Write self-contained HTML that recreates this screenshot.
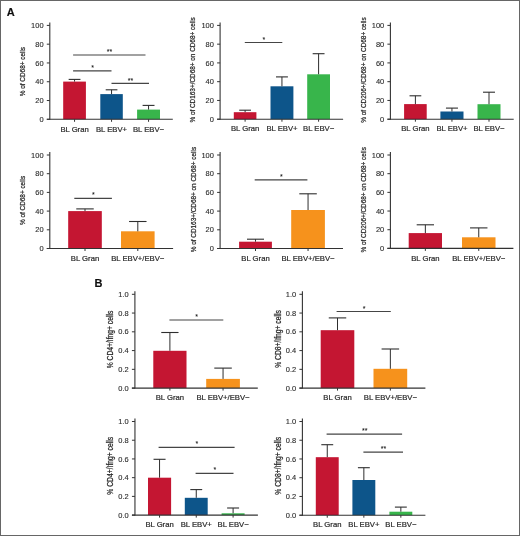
<!DOCTYPE html>
<html><head><meta charset="utf-8"><style>
html,body{margin:0;padding:0;background:#fff;}
#w{position:relative;width:520px;height:536px;overflow:hidden;background:#fff;}
#w svg{position:absolute;left:0;top:0;will-change:transform;}
text{font-family:"Liberation Sans", sans-serif;}
</style></head><body><div id="w">
<svg width="520" height="536" viewBox="0 0 520 536">
<defs><filter id="bl" x="0" y="0" width="1" height="1"><feGaussianBlur stdDeviation="0.3"/></filter></defs>
<g filter="url(#bl)">
<rect x="0" y="0" width="520" height="536" fill="#fff"/>
<rect x="0.5" y="0.5" width="519" height="535" fill="none" stroke="#666" stroke-width="1"/>
<rect x="63.20" y="81.60" width="22.70" height="37.70" fill="#C41230"/>
<rect x="100.30" y="94.10" width="22.50" height="25.20" fill="#10558A"/>
<rect x="137.10" y="109.60" width="22.90" height="9.70" fill="#37B54C"/>
<line x1="74.55" y1="79.40" x2="74.55" y2="81.60" stroke="#2e2e2e" stroke-width="1"/>
<line x1="68.65" y1="79.40" x2="80.45" y2="79.40" stroke="#2e2e2e" stroke-width="1.1"/>
<line x1="111.55" y1="89.80" x2="111.55" y2="94.10" stroke="#2e2e2e" stroke-width="1"/>
<line x1="105.70" y1="89.80" x2="117.40" y2="89.80" stroke="#2e2e2e" stroke-width="1.1"/>
<line x1="148.55" y1="105.40" x2="148.55" y2="109.60" stroke="#2e2e2e" stroke-width="1"/>
<line x1="142.60" y1="105.40" x2="154.50" y2="105.40" stroke="#2e2e2e" stroke-width="1.1"/>
<line x1="49.80" y1="22.40" x2="49.80" y2="119.80" stroke="#333" stroke-width="1.1"/>
<line x1="46.80" y1="119.30" x2="172.80" y2="119.30" stroke="#333" stroke-width="1.1"/>
<line x1="46.80" y1="119.30" x2="49.80" y2="119.30" stroke="#333" stroke-width="1"/>
<text transform="translate(43.60 121.90) scale(1.07 1)" font-size="7.0" text-anchor="end" fill="#2a2a2a" stroke="#2a2a2a" stroke-width="0.1" >0</text>
<line x1="46.80" y1="100.52" x2="49.80" y2="100.52" stroke="#333" stroke-width="1"/>
<text transform="translate(43.60 103.12) scale(1.07 1)" font-size="7.0" text-anchor="end" fill="#2a2a2a" stroke="#2a2a2a" stroke-width="0.1" >20</text>
<line x1="46.80" y1="81.74" x2="49.80" y2="81.74" stroke="#333" stroke-width="1"/>
<text transform="translate(43.60 84.34) scale(1.07 1)" font-size="7.0" text-anchor="end" fill="#2a2a2a" stroke="#2a2a2a" stroke-width="0.1" >40</text>
<line x1="46.80" y1="62.96" x2="49.80" y2="62.96" stroke="#333" stroke-width="1"/>
<text transform="translate(43.60 65.56) scale(1.07 1)" font-size="7.0" text-anchor="end" fill="#2a2a2a" stroke="#2a2a2a" stroke-width="0.1" >60</text>
<line x1="46.80" y1="44.18" x2="49.80" y2="44.18" stroke="#333" stroke-width="1"/>
<text transform="translate(43.60 46.78) scale(1.07 1)" font-size="7.0" text-anchor="end" fill="#2a2a2a" stroke="#2a2a2a" stroke-width="0.1" >80</text>
<line x1="46.80" y1="25.40" x2="49.80" y2="25.40" stroke="#333" stroke-width="1"/>
<text transform="translate(43.60 28.00) scale(1.07 1)" font-size="7.0" text-anchor="end" fill="#2a2a2a" stroke="#2a2a2a" stroke-width="0.1" >100</text>
<line x1="74.55" y1="119.30" x2="74.55" y2="121.80" stroke="#333" stroke-width="1"/>
<text transform="translate(74.55 131.50) scale(1.07 1)" font-size="7.2" text-anchor="middle" fill="#2a2a2a" stroke="#2a2a2a" stroke-width="0.2" >BL Gran</text>
<line x1="111.55" y1="119.30" x2="111.55" y2="121.80" stroke="#333" stroke-width="1"/>
<text transform="translate(111.55 131.50) scale(1.07 1)" font-size="7.2" text-anchor="middle" fill="#2a2a2a" stroke="#2a2a2a" stroke-width="0.2" >BL EBV+</text>
<line x1="148.55" y1="119.30" x2="148.55" y2="121.80" stroke="#333" stroke-width="1"/>
<text transform="translate(148.55 131.50) scale(1.07 1)" font-size="7.2" text-anchor="middle" fill="#2a2a2a" stroke="#2a2a2a" stroke-width="0.2" >BL EBV−</text>
<text transform="translate(25.00 71.60) rotate(-90) scale(1 1.25)" font-size="6.4" text-anchor="middle" fill="#2a2a2a" stroke="#2a2a2a" stroke-width="0.2" >% of CD68+ cells</text>
<line x1="73.10" y1="55.00" x2="145.50" y2="55.00" stroke="#444" stroke-width="1.15"/>
<text transform="translate(109.60 54.10) scale(1.07 1)" font-size="6.6" text-anchor="middle" fill="#111" stroke="#111" stroke-width="0.05" >**</text>
<line x1="73.10" y1="70.80" x2="111.50" y2="70.80" stroke="#444" stroke-width="1.15"/>
<text transform="translate(92.60 69.90) scale(1.07 1)" font-size="6.6" text-anchor="middle" fill="#111" stroke="#111" stroke-width="0.05" >*</text>
<line x1="111.50" y1="83.40" x2="149.00" y2="83.40" stroke="#444" stroke-width="1.15"/>
<text transform="translate(130.55 82.50) scale(1.07 1)" font-size="6.6" text-anchor="middle" fill="#111" stroke="#111" stroke-width="0.05" >**</text>
<rect x="233.80" y="112.20" width="22.60" height="7.00" fill="#C41230"/>
<rect x="270.50" y="86.30" width="22.90" height="32.90" fill="#10558A"/>
<rect x="307.20" y="74.30" width="22.80" height="44.90" fill="#37B54C"/>
<line x1="245.10" y1="110.20" x2="245.10" y2="112.20" stroke="#2e2e2e" stroke-width="1"/>
<line x1="239.22" y1="110.20" x2="250.98" y2="110.20" stroke="#2e2e2e" stroke-width="1.1"/>
<line x1="281.95" y1="76.90" x2="281.95" y2="86.30" stroke="#2e2e2e" stroke-width="1"/>
<line x1="276.00" y1="76.90" x2="287.90" y2="76.90" stroke="#2e2e2e" stroke-width="1.1"/>
<line x1="318.60" y1="53.70" x2="318.60" y2="74.30" stroke="#2e2e2e" stroke-width="1"/>
<line x1="312.67" y1="53.70" x2="324.53" y2="53.70" stroke="#2e2e2e" stroke-width="1.1"/>
<line x1="220.10" y1="22.40" x2="220.10" y2="119.70" stroke="#333" stroke-width="1.1"/>
<line x1="217.10" y1="119.20" x2="343.10" y2="119.20" stroke="#333" stroke-width="1.1"/>
<line x1="217.10" y1="119.20" x2="220.10" y2="119.20" stroke="#333" stroke-width="1"/>
<text transform="translate(213.90 121.80) scale(1.07 1)" font-size="7.0" text-anchor="end" fill="#2a2a2a" stroke="#2a2a2a" stroke-width="0.1" >0</text>
<line x1="217.10" y1="100.44" x2="220.10" y2="100.44" stroke="#333" stroke-width="1"/>
<text transform="translate(213.90 103.04) scale(1.07 1)" font-size="7.0" text-anchor="end" fill="#2a2a2a" stroke="#2a2a2a" stroke-width="0.1" >20</text>
<line x1="217.10" y1="81.68" x2="220.10" y2="81.68" stroke="#333" stroke-width="1"/>
<text transform="translate(213.90 84.28) scale(1.07 1)" font-size="7.0" text-anchor="end" fill="#2a2a2a" stroke="#2a2a2a" stroke-width="0.1" >40</text>
<line x1="217.10" y1="62.92" x2="220.10" y2="62.92" stroke="#333" stroke-width="1"/>
<text transform="translate(213.90 65.52) scale(1.07 1)" font-size="7.0" text-anchor="end" fill="#2a2a2a" stroke="#2a2a2a" stroke-width="0.1" >60</text>
<line x1="217.10" y1="44.16" x2="220.10" y2="44.16" stroke="#333" stroke-width="1"/>
<text transform="translate(213.90 46.76) scale(1.07 1)" font-size="7.0" text-anchor="end" fill="#2a2a2a" stroke="#2a2a2a" stroke-width="0.1" >80</text>
<line x1="217.10" y1="25.40" x2="220.10" y2="25.40" stroke="#333" stroke-width="1"/>
<text transform="translate(213.90 28.00) scale(1.07 1)" font-size="7.0" text-anchor="end" fill="#2a2a2a" stroke="#2a2a2a" stroke-width="0.1" >100</text>
<line x1="245.10" y1="119.20" x2="245.10" y2="121.70" stroke="#333" stroke-width="1"/>
<text transform="translate(245.10 131.40) scale(1.07 1)" font-size="7.2" text-anchor="middle" fill="#2a2a2a" stroke="#2a2a2a" stroke-width="0.2" >BL Gran</text>
<line x1="281.95" y1="119.20" x2="281.95" y2="121.70" stroke="#333" stroke-width="1"/>
<text transform="translate(281.95 131.40) scale(1.07 1)" font-size="7.2" text-anchor="middle" fill="#2a2a2a" stroke="#2a2a2a" stroke-width="0.2" >BL EBV+</text>
<line x1="318.60" y1="119.20" x2="318.60" y2="121.70" stroke="#333" stroke-width="1"/>
<text transform="translate(318.60 131.40) scale(1.07 1)" font-size="7.2" text-anchor="middle" fill="#2a2a2a" stroke="#2a2a2a" stroke-width="0.2" >BL EBV−</text>
<text transform="translate(195.30 69.90) rotate(-90) scale(1 1.25)" font-size="6.4" text-anchor="middle" fill="#2a2a2a" stroke="#2a2a2a" stroke-width="0.2" >% of CD163+/CD68+ on CD68+ cells</text>
<line x1="244.80" y1="42.50" x2="282.30" y2="42.50" stroke="#444" stroke-width="1.15"/>
<text transform="translate(263.85 41.60) scale(1.07 1)" font-size="6.6" text-anchor="middle" fill="#111" stroke="#111" stroke-width="0.05" >*</text>
<rect x="404.10" y="104.10" width="22.60" height="15.10" fill="#C41230"/>
<rect x="440.40" y="111.50" width="23.10" height="7.70" fill="#10558A"/>
<rect x="477.50" y="104.20" width="23.00" height="15.00" fill="#37B54C"/>
<line x1="415.40" y1="95.80" x2="415.40" y2="104.10" stroke="#2e2e2e" stroke-width="1"/>
<line x1="409.52" y1="95.80" x2="421.28" y2="95.80" stroke="#2e2e2e" stroke-width="1.1"/>
<line x1="451.95" y1="108.10" x2="451.95" y2="111.50" stroke="#2e2e2e" stroke-width="1"/>
<line x1="445.94" y1="108.10" x2="457.96" y2="108.10" stroke="#2e2e2e" stroke-width="1.1"/>
<line x1="489.00" y1="92.20" x2="489.00" y2="104.20" stroke="#2e2e2e" stroke-width="1"/>
<line x1="483.02" y1="92.20" x2="494.98" y2="92.20" stroke="#2e2e2e" stroke-width="1.1"/>
<line x1="390.40" y1="22.40" x2="390.40" y2="119.70" stroke="#333" stroke-width="1.1"/>
<line x1="387.40" y1="119.20" x2="513.70" y2="119.20" stroke="#333" stroke-width="1.1"/>
<line x1="387.40" y1="119.20" x2="390.40" y2="119.20" stroke="#333" stroke-width="1"/>
<text transform="translate(384.20 121.80) scale(1.07 1)" font-size="7.0" text-anchor="end" fill="#2a2a2a" stroke="#2a2a2a" stroke-width="0.1" >0</text>
<line x1="387.40" y1="100.44" x2="390.40" y2="100.44" stroke="#333" stroke-width="1"/>
<text transform="translate(384.20 103.04) scale(1.07 1)" font-size="7.0" text-anchor="end" fill="#2a2a2a" stroke="#2a2a2a" stroke-width="0.1" >20</text>
<line x1="387.40" y1="81.68" x2="390.40" y2="81.68" stroke="#333" stroke-width="1"/>
<text transform="translate(384.20 84.28) scale(1.07 1)" font-size="7.0" text-anchor="end" fill="#2a2a2a" stroke="#2a2a2a" stroke-width="0.1" >40</text>
<line x1="387.40" y1="62.92" x2="390.40" y2="62.92" stroke="#333" stroke-width="1"/>
<text transform="translate(384.20 65.52) scale(1.07 1)" font-size="7.0" text-anchor="end" fill="#2a2a2a" stroke="#2a2a2a" stroke-width="0.1" >60</text>
<line x1="387.40" y1="44.16" x2="390.40" y2="44.16" stroke="#333" stroke-width="1"/>
<text transform="translate(384.20 46.76) scale(1.07 1)" font-size="7.0" text-anchor="end" fill="#2a2a2a" stroke="#2a2a2a" stroke-width="0.1" >80</text>
<line x1="387.40" y1="25.40" x2="390.40" y2="25.40" stroke="#333" stroke-width="1"/>
<text transform="translate(384.20 28.00) scale(1.07 1)" font-size="7.0" text-anchor="end" fill="#2a2a2a" stroke="#2a2a2a" stroke-width="0.1" >100</text>
<line x1="415.40" y1="119.20" x2="415.40" y2="121.70" stroke="#333" stroke-width="1"/>
<text transform="translate(415.40 131.40) scale(1.07 1)" font-size="7.2" text-anchor="middle" fill="#2a2a2a" stroke="#2a2a2a" stroke-width="0.2" >BL Gran</text>
<line x1="451.95" y1="119.20" x2="451.95" y2="121.70" stroke="#333" stroke-width="1"/>
<text transform="translate(451.95 131.40) scale(1.07 1)" font-size="7.2" text-anchor="middle" fill="#2a2a2a" stroke="#2a2a2a" stroke-width="0.2" >BL EBV+</text>
<line x1="489.00" y1="119.20" x2="489.00" y2="121.70" stroke="#333" stroke-width="1"/>
<text transform="translate(489.00 131.40) scale(1.07 1)" font-size="7.2" text-anchor="middle" fill="#2a2a2a" stroke="#2a2a2a" stroke-width="0.2" >BL EBV−</text>
<text transform="translate(365.70 70.00) rotate(-90) scale(1 1.25)" font-size="6.4" text-anchor="middle" fill="#2a2a2a" stroke="#2a2a2a" stroke-width="0.2" >% of CD206+/CD68+ on CD68+ cells</text>
<rect x="68.20" y="211.10" width="33.60" height="37.40" fill="#C41230"/>
<rect x="121.00" y="231.30" width="33.60" height="17.20" fill="#F6921A"/>
<line x1="85.00" y1="208.90" x2="85.00" y2="211.10" stroke="#2e2e2e" stroke-width="1"/>
<line x1="76.26" y1="208.90" x2="93.74" y2="208.90" stroke="#2e2e2e" stroke-width="1.1"/>
<line x1="137.80" y1="221.50" x2="137.80" y2="231.30" stroke="#2e2e2e" stroke-width="1"/>
<line x1="129.06" y1="221.50" x2="146.54" y2="221.50" stroke="#2e2e2e" stroke-width="1.1"/>
<line x1="49.80" y1="152.00" x2="49.80" y2="249.00" stroke="#333" stroke-width="1.1"/>
<line x1="46.80" y1="248.50" x2="173.10" y2="248.50" stroke="#333" stroke-width="1.1"/>
<line x1="46.80" y1="248.50" x2="49.80" y2="248.50" stroke="#333" stroke-width="1"/>
<text transform="translate(43.60 251.10) scale(1.07 1)" font-size="7.0" text-anchor="end" fill="#2a2a2a" stroke="#2a2a2a" stroke-width="0.1" >0</text>
<line x1="46.80" y1="229.80" x2="49.80" y2="229.80" stroke="#333" stroke-width="1"/>
<text transform="translate(43.60 232.40) scale(1.07 1)" font-size="7.0" text-anchor="end" fill="#2a2a2a" stroke="#2a2a2a" stroke-width="0.1" >20</text>
<line x1="46.80" y1="211.10" x2="49.80" y2="211.10" stroke="#333" stroke-width="1"/>
<text transform="translate(43.60 213.70) scale(1.07 1)" font-size="7.0" text-anchor="end" fill="#2a2a2a" stroke="#2a2a2a" stroke-width="0.1" >40</text>
<line x1="46.80" y1="192.40" x2="49.80" y2="192.40" stroke="#333" stroke-width="1"/>
<text transform="translate(43.60 195.00) scale(1.07 1)" font-size="7.0" text-anchor="end" fill="#2a2a2a" stroke="#2a2a2a" stroke-width="0.1" >60</text>
<line x1="46.80" y1="173.70" x2="49.80" y2="173.70" stroke="#333" stroke-width="1"/>
<text transform="translate(43.60 176.30) scale(1.07 1)" font-size="7.0" text-anchor="end" fill="#2a2a2a" stroke="#2a2a2a" stroke-width="0.1" >80</text>
<line x1="46.80" y1="155.00" x2="49.80" y2="155.00" stroke="#333" stroke-width="1"/>
<text transform="translate(43.60 157.60) scale(1.07 1)" font-size="7.0" text-anchor="end" fill="#2a2a2a" stroke="#2a2a2a" stroke-width="0.1" >100</text>
<line x1="85.00" y1="248.50" x2="85.00" y2="251.00" stroke="#333" stroke-width="1"/>
<text transform="translate(85.00 260.70) scale(1.07 1)" font-size="7.2" text-anchor="middle" fill="#2a2a2a" stroke="#2a2a2a" stroke-width="0.2" >BL Gran</text>
<line x1="137.80" y1="248.50" x2="137.80" y2="251.00" stroke="#333" stroke-width="1"/>
<text transform="translate(137.80 260.70) scale(1.07 1)" font-size="7.2" text-anchor="middle" fill="#2a2a2a" stroke="#2a2a2a" stroke-width="0.2" >BL EBV+/EBV−</text>
<text transform="translate(25.40 200.40) rotate(-90) scale(1 1.25)" font-size="6.4" text-anchor="middle" fill="#2a2a2a" stroke="#2a2a2a" stroke-width="0.2" >% of CD68+ cells</text>
<line x1="74.30" y1="198.30" x2="111.90" y2="198.30" stroke="#444" stroke-width="1.15"/>
<text transform="translate(93.40 197.40) scale(1.07 1)" font-size="6.6" text-anchor="middle" fill="#111" stroke="#111" stroke-width="0.05" >*</text>
<rect x="239.10" y="241.70" width="32.80" height="6.80" fill="#C41230"/>
<rect x="291.20" y="210.00" width="33.70" height="38.50" fill="#F6921A"/>
<line x1="255.50" y1="239.20" x2="255.50" y2="241.70" stroke="#2e2e2e" stroke-width="1"/>
<line x1="246.97" y1="239.20" x2="264.03" y2="239.20" stroke="#2e2e2e" stroke-width="1.1"/>
<line x1="308.05" y1="193.80" x2="308.05" y2="210.00" stroke="#2e2e2e" stroke-width="1"/>
<line x1="299.29" y1="193.80" x2="316.81" y2="193.80" stroke="#2e2e2e" stroke-width="1.1"/>
<line x1="220.10" y1="152.00" x2="220.10" y2="249.00" stroke="#333" stroke-width="1.1"/>
<line x1="217.10" y1="248.50" x2="343.00" y2="248.50" stroke="#333" stroke-width="1.1"/>
<line x1="217.10" y1="248.50" x2="220.10" y2="248.50" stroke="#333" stroke-width="1"/>
<text transform="translate(213.90 251.10) scale(1.07 1)" font-size="7.0" text-anchor="end" fill="#2a2a2a" stroke="#2a2a2a" stroke-width="0.1" >0</text>
<line x1="217.10" y1="229.80" x2="220.10" y2="229.80" stroke="#333" stroke-width="1"/>
<text transform="translate(213.90 232.40) scale(1.07 1)" font-size="7.0" text-anchor="end" fill="#2a2a2a" stroke="#2a2a2a" stroke-width="0.1" >20</text>
<line x1="217.10" y1="211.10" x2="220.10" y2="211.10" stroke="#333" stroke-width="1"/>
<text transform="translate(213.90 213.70) scale(1.07 1)" font-size="7.0" text-anchor="end" fill="#2a2a2a" stroke="#2a2a2a" stroke-width="0.1" >40</text>
<line x1="217.10" y1="192.40" x2="220.10" y2="192.40" stroke="#333" stroke-width="1"/>
<text transform="translate(213.90 195.00) scale(1.07 1)" font-size="7.0" text-anchor="end" fill="#2a2a2a" stroke="#2a2a2a" stroke-width="0.1" >60</text>
<line x1="217.10" y1="173.70" x2="220.10" y2="173.70" stroke="#333" stroke-width="1"/>
<text transform="translate(213.90 176.30) scale(1.07 1)" font-size="7.0" text-anchor="end" fill="#2a2a2a" stroke="#2a2a2a" stroke-width="0.1" >80</text>
<line x1="217.10" y1="155.00" x2="220.10" y2="155.00" stroke="#333" stroke-width="1"/>
<text transform="translate(213.90 157.60) scale(1.07 1)" font-size="7.0" text-anchor="end" fill="#2a2a2a" stroke="#2a2a2a" stroke-width="0.1" >100</text>
<line x1="255.50" y1="248.50" x2="255.50" y2="251.00" stroke="#333" stroke-width="1"/>
<text transform="translate(255.50 260.70) scale(1.07 1)" font-size="7.2" text-anchor="middle" fill="#2a2a2a" stroke="#2a2a2a" stroke-width="0.2" >BL Gran</text>
<line x1="308.05" y1="248.50" x2="308.05" y2="251.00" stroke="#333" stroke-width="1"/>
<text transform="translate(308.05 260.70) scale(1.07 1)" font-size="7.2" text-anchor="middle" fill="#2a2a2a" stroke="#2a2a2a" stroke-width="0.2" >BL EBV+/EBV−</text>
<text transform="translate(195.60 199.60) rotate(-90) scale(1 1.25)" font-size="6.4" text-anchor="middle" fill="#2a2a2a" stroke="#2a2a2a" stroke-width="0.2" >% of CD163+/CD68+ on CD68+ cells</text>
<line x1="254.70" y1="179.80" x2="307.40" y2="179.80" stroke="#444" stroke-width="1.15"/>
<text transform="translate(281.35 178.90) scale(1.07 1)" font-size="6.6" text-anchor="middle" fill="#111" stroke="#111" stroke-width="0.05" >*</text>
<rect x="408.70" y="233.10" width="33.30" height="15.30" fill="#C41230"/>
<rect x="462.00" y="237.30" width="33.50" height="11.10" fill="#F6921A"/>
<line x1="425.35" y1="224.80" x2="425.35" y2="233.10" stroke="#2e2e2e" stroke-width="1"/>
<line x1="416.69" y1="224.80" x2="434.01" y2="224.80" stroke="#2e2e2e" stroke-width="1.1"/>
<line x1="478.75" y1="227.90" x2="478.75" y2="237.30" stroke="#2e2e2e" stroke-width="1"/>
<line x1="470.04" y1="227.90" x2="487.46" y2="227.90" stroke="#2e2e2e" stroke-width="1.1"/>
<line x1="390.40" y1="152.00" x2="390.40" y2="248.90" stroke="#333" stroke-width="1.1"/>
<line x1="387.40" y1="248.40" x2="513.40" y2="248.40" stroke="#333" stroke-width="1.1"/>
<line x1="387.40" y1="248.40" x2="390.40" y2="248.40" stroke="#333" stroke-width="1"/>
<text transform="translate(384.20 251.00) scale(1.07 1)" font-size="7.0" text-anchor="end" fill="#2a2a2a" stroke="#2a2a2a" stroke-width="0.1" >0</text>
<line x1="387.40" y1="229.72" x2="390.40" y2="229.72" stroke="#333" stroke-width="1"/>
<text transform="translate(384.20 232.32) scale(1.07 1)" font-size="7.0" text-anchor="end" fill="#2a2a2a" stroke="#2a2a2a" stroke-width="0.1" >20</text>
<line x1="387.40" y1="211.04" x2="390.40" y2="211.04" stroke="#333" stroke-width="1"/>
<text transform="translate(384.20 213.64) scale(1.07 1)" font-size="7.0" text-anchor="end" fill="#2a2a2a" stroke="#2a2a2a" stroke-width="0.1" >40</text>
<line x1="387.40" y1="192.36" x2="390.40" y2="192.36" stroke="#333" stroke-width="1"/>
<text transform="translate(384.20 194.96) scale(1.07 1)" font-size="7.0" text-anchor="end" fill="#2a2a2a" stroke="#2a2a2a" stroke-width="0.1" >60</text>
<line x1="387.40" y1="173.68" x2="390.40" y2="173.68" stroke="#333" stroke-width="1"/>
<text transform="translate(384.20 176.28) scale(1.07 1)" font-size="7.0" text-anchor="end" fill="#2a2a2a" stroke="#2a2a2a" stroke-width="0.1" >80</text>
<line x1="387.40" y1="155.00" x2="390.40" y2="155.00" stroke="#333" stroke-width="1"/>
<text transform="translate(384.20 157.60) scale(1.07 1)" font-size="7.0" text-anchor="end" fill="#2a2a2a" stroke="#2a2a2a" stroke-width="0.1" >100</text>
<line x1="425.35" y1="248.40" x2="425.35" y2="250.90" stroke="#333" stroke-width="1"/>
<text transform="translate(425.35 260.60) scale(1.07 1)" font-size="7.2" text-anchor="middle" fill="#2a2a2a" stroke="#2a2a2a" stroke-width="0.2" >BL Gran</text>
<line x1="478.75" y1="248.40" x2="478.75" y2="250.90" stroke="#333" stroke-width="1"/>
<text transform="translate(478.75 260.60) scale(1.07 1)" font-size="7.2" text-anchor="middle" fill="#2a2a2a" stroke="#2a2a2a" stroke-width="0.2" >BL EBV+/EBV−</text>
<text transform="translate(365.70 199.80) rotate(-90) scale(1 1.25)" font-size="6.4" text-anchor="middle" fill="#2a2a2a" stroke="#2a2a2a" stroke-width="0.2" >% of CD206+/CD68+ on CD68+ cells</text>
<rect x="153.30" y="350.80" width="33.20" height="37.30" fill="#C41230"/>
<rect x="206.20" y="378.90" width="33.70" height="9.20" fill="#F6921A"/>
<line x1="169.90" y1="332.50" x2="169.90" y2="350.80" stroke="#2e2e2e" stroke-width="1"/>
<line x1="161.27" y1="332.50" x2="178.53" y2="332.50" stroke="#2e2e2e" stroke-width="1.1"/>
<line x1="223.05" y1="368.10" x2="223.05" y2="378.90" stroke="#2e2e2e" stroke-width="1"/>
<line x1="214.29" y1="368.10" x2="231.81" y2="368.10" stroke="#2e2e2e" stroke-width="1.1"/>
<line x1="134.90" y1="291.30" x2="134.90" y2="388.60" stroke="#333" stroke-width="1.1"/>
<line x1="131.90" y1="388.10" x2="257.80" y2="388.10" stroke="#333" stroke-width="1.1"/>
<line x1="131.90" y1="388.10" x2="134.90" y2="388.10" stroke="#333" stroke-width="1"/>
<text transform="translate(128.70 390.70) scale(1.07 1)" font-size="7.0" text-anchor="end" fill="#2a2a2a" stroke="#2a2a2a" stroke-width="0.1" >0.0</text>
<line x1="131.90" y1="369.34" x2="134.90" y2="369.34" stroke="#333" stroke-width="1"/>
<text transform="translate(128.70 371.94) scale(1.07 1)" font-size="7.0" text-anchor="end" fill="#2a2a2a" stroke="#2a2a2a" stroke-width="0.1" >0.2</text>
<line x1="131.90" y1="350.58" x2="134.90" y2="350.58" stroke="#333" stroke-width="1"/>
<text transform="translate(128.70 353.18) scale(1.07 1)" font-size="7.0" text-anchor="end" fill="#2a2a2a" stroke="#2a2a2a" stroke-width="0.1" >0.4</text>
<line x1="131.90" y1="331.82" x2="134.90" y2="331.82" stroke="#333" stroke-width="1"/>
<text transform="translate(128.70 334.42) scale(1.07 1)" font-size="7.0" text-anchor="end" fill="#2a2a2a" stroke="#2a2a2a" stroke-width="0.1" >0.6</text>
<line x1="131.90" y1="313.06" x2="134.90" y2="313.06" stroke="#333" stroke-width="1"/>
<text transform="translate(128.70 315.66) scale(1.07 1)" font-size="7.0" text-anchor="end" fill="#2a2a2a" stroke="#2a2a2a" stroke-width="0.1" >0.8</text>
<line x1="131.90" y1="294.30" x2="134.90" y2="294.30" stroke="#333" stroke-width="1"/>
<text transform="translate(128.70 296.90) scale(1.07 1)" font-size="7.0" text-anchor="end" fill="#2a2a2a" stroke="#2a2a2a" stroke-width="0.1" >1.0</text>
<line x1="169.90" y1="388.10" x2="169.90" y2="390.60" stroke="#333" stroke-width="1"/>
<text transform="translate(169.90 400.30) scale(1.07 1)" font-size="7.2" text-anchor="middle" fill="#2a2a2a" stroke="#2a2a2a" stroke-width="0.2" >BL Gran</text>
<line x1="223.05" y1="388.10" x2="223.05" y2="390.60" stroke="#333" stroke-width="1"/>
<text transform="translate(223.05 400.30) scale(1.07 1)" font-size="7.2" text-anchor="middle" fill="#2a2a2a" stroke="#2a2a2a" stroke-width="0.2" >BL EBV+/EBV−</text>
<text transform="translate(113.00 339.50) rotate(-90) scale(1 1.3)" font-size="6.75" text-anchor="middle" fill="#2a2a2a" stroke="#2a2a2a" stroke-width="0.2" >% CD4+/Ifng+ cells</text>
<line x1="169.40" y1="320.00" x2="223.30" y2="320.00" stroke="#444" stroke-width="1.15"/>
<text transform="translate(196.65 319.10) scale(1.07 1)" font-size="6.6" text-anchor="middle" fill="#111" stroke="#111" stroke-width="0.05" >*</text>
<rect x="320.70" y="330.20" width="33.60" height="57.90" fill="#C41230"/>
<rect x="373.50" y="368.80" width="33.70" height="19.30" fill="#F6921A"/>
<line x1="337.50" y1="317.90" x2="337.50" y2="330.20" stroke="#2e2e2e" stroke-width="1"/>
<line x1="328.76" y1="317.90" x2="346.24" y2="317.90" stroke="#2e2e2e" stroke-width="1.1"/>
<line x1="390.35" y1="349.00" x2="390.35" y2="368.80" stroke="#2e2e2e" stroke-width="1"/>
<line x1="381.59" y1="349.00" x2="399.11" y2="349.00" stroke="#2e2e2e" stroke-width="1.1"/>
<line x1="302.40" y1="291.30" x2="302.40" y2="388.60" stroke="#333" stroke-width="1.1"/>
<line x1="299.40" y1="388.10" x2="425.40" y2="388.10" stroke="#333" stroke-width="1.1"/>
<line x1="299.40" y1="388.10" x2="302.40" y2="388.10" stroke="#333" stroke-width="1"/>
<text transform="translate(296.20 390.70) scale(1.07 1)" font-size="7.0" text-anchor="end" fill="#2a2a2a" stroke="#2a2a2a" stroke-width="0.1" >0.0</text>
<line x1="299.40" y1="369.34" x2="302.40" y2="369.34" stroke="#333" stroke-width="1"/>
<text transform="translate(296.20 371.94) scale(1.07 1)" font-size="7.0" text-anchor="end" fill="#2a2a2a" stroke="#2a2a2a" stroke-width="0.1" >0.2</text>
<line x1="299.40" y1="350.58" x2="302.40" y2="350.58" stroke="#333" stroke-width="1"/>
<text transform="translate(296.20 353.18) scale(1.07 1)" font-size="7.0" text-anchor="end" fill="#2a2a2a" stroke="#2a2a2a" stroke-width="0.1" >0.4</text>
<line x1="299.40" y1="331.82" x2="302.40" y2="331.82" stroke="#333" stroke-width="1"/>
<text transform="translate(296.20 334.42) scale(1.07 1)" font-size="7.0" text-anchor="end" fill="#2a2a2a" stroke="#2a2a2a" stroke-width="0.1" >0.6</text>
<line x1="299.40" y1="313.06" x2="302.40" y2="313.06" stroke="#333" stroke-width="1"/>
<text transform="translate(296.20 315.66) scale(1.07 1)" font-size="7.0" text-anchor="end" fill="#2a2a2a" stroke="#2a2a2a" stroke-width="0.1" >0.8</text>
<line x1="299.40" y1="294.30" x2="302.40" y2="294.30" stroke="#333" stroke-width="1"/>
<text transform="translate(296.20 296.90) scale(1.07 1)" font-size="7.0" text-anchor="end" fill="#2a2a2a" stroke="#2a2a2a" stroke-width="0.1" >1.0</text>
<line x1="337.50" y1="388.10" x2="337.50" y2="390.60" stroke="#333" stroke-width="1"/>
<text transform="translate(337.50 400.30) scale(1.07 1)" font-size="7.2" text-anchor="middle" fill="#2a2a2a" stroke="#2a2a2a" stroke-width="0.2" >BL Gran</text>
<line x1="390.35" y1="388.10" x2="390.35" y2="390.60" stroke="#333" stroke-width="1"/>
<text transform="translate(390.35 400.30) scale(1.07 1)" font-size="7.2" text-anchor="middle" fill="#2a2a2a" stroke="#2a2a2a" stroke-width="0.2" >BL EBV+/EBV−</text>
<text transform="translate(280.60 339.00) rotate(-90) scale(1 1.3)" font-size="6.75" text-anchor="middle" fill="#2a2a2a" stroke="#2a2a2a" stroke-width="0.2" >% CD8+/Ifng+ cells</text>
<line x1="336.60" y1="311.50" x2="390.80" y2="311.50" stroke="#444" stroke-width="1.15"/>
<text transform="translate(364.00 310.60) scale(1.07 1)" font-size="6.6" text-anchor="middle" fill="#111" stroke="#111" stroke-width="0.05" >*</text>
<rect x="148.00" y="477.70" width="23.10" height="37.40" fill="#C41230"/>
<rect x="184.80" y="497.80" width="22.90" height="17.30" fill="#10558A"/>
<rect x="221.60" y="513.30" width="23.00" height="1.80" fill="#37B54C"/>
<line x1="159.55" y1="459.30" x2="159.55" y2="477.70" stroke="#2e2e2e" stroke-width="1"/>
<line x1="153.54" y1="459.30" x2="165.56" y2="459.30" stroke="#2e2e2e" stroke-width="1.1"/>
<line x1="196.25" y1="489.60" x2="196.25" y2="497.80" stroke="#2e2e2e" stroke-width="1"/>
<line x1="190.30" y1="489.60" x2="202.20" y2="489.60" stroke="#2e2e2e" stroke-width="1.1"/>
<line x1="233.10" y1="508.00" x2="233.10" y2="513.30" stroke="#2e2e2e" stroke-width="1"/>
<line x1="227.12" y1="508.00" x2="239.08" y2="508.00" stroke="#2e2e2e" stroke-width="1.1"/>
<line x1="134.95" y1="418.50" x2="134.95" y2="515.60" stroke="#333" stroke-width="1.1"/>
<line x1="131.95" y1="515.10" x2="257.90" y2="515.10" stroke="#333" stroke-width="1.1"/>
<line x1="131.95" y1="515.10" x2="134.95" y2="515.10" stroke="#333" stroke-width="1"/>
<text transform="translate(128.75 517.70) scale(1.07 1)" font-size="7.0" text-anchor="end" fill="#2a2a2a" stroke="#2a2a2a" stroke-width="0.1" >0.0</text>
<line x1="131.95" y1="496.38" x2="134.95" y2="496.38" stroke="#333" stroke-width="1"/>
<text transform="translate(128.75 498.98) scale(1.07 1)" font-size="7.0" text-anchor="end" fill="#2a2a2a" stroke="#2a2a2a" stroke-width="0.1" >0.2</text>
<line x1="131.95" y1="477.66" x2="134.95" y2="477.66" stroke="#333" stroke-width="1"/>
<text transform="translate(128.75 480.26) scale(1.07 1)" font-size="7.0" text-anchor="end" fill="#2a2a2a" stroke="#2a2a2a" stroke-width="0.1" >0.4</text>
<line x1="131.95" y1="458.94" x2="134.95" y2="458.94" stroke="#333" stroke-width="1"/>
<text transform="translate(128.75 461.54) scale(1.07 1)" font-size="7.0" text-anchor="end" fill="#2a2a2a" stroke="#2a2a2a" stroke-width="0.1" >0.6</text>
<line x1="131.95" y1="440.22" x2="134.95" y2="440.22" stroke="#333" stroke-width="1"/>
<text transform="translate(128.75 442.82) scale(1.07 1)" font-size="7.0" text-anchor="end" fill="#2a2a2a" stroke="#2a2a2a" stroke-width="0.1" >0.8</text>
<line x1="131.95" y1="421.50" x2="134.95" y2="421.50" stroke="#333" stroke-width="1"/>
<text transform="translate(128.75 424.10) scale(1.07 1)" font-size="7.0" text-anchor="end" fill="#2a2a2a" stroke="#2a2a2a" stroke-width="0.1" >1.0</text>
<line x1="159.55" y1="515.10" x2="159.55" y2="517.60" stroke="#333" stroke-width="1"/>
<text transform="translate(159.55 527.30) scale(1.07 1)" font-size="7.2" text-anchor="middle" fill="#2a2a2a" stroke="#2a2a2a" stroke-width="0.2" >BL Gran</text>
<line x1="196.25" y1="515.10" x2="196.25" y2="517.60" stroke="#333" stroke-width="1"/>
<text transform="translate(196.25 527.30) scale(1.07 1)" font-size="7.2" text-anchor="middle" fill="#2a2a2a" stroke="#2a2a2a" stroke-width="0.2" >BL EBV+</text>
<line x1="233.10" y1="515.10" x2="233.10" y2="517.60" stroke="#333" stroke-width="1"/>
<text transform="translate(233.10 527.30) scale(1.07 1)" font-size="7.2" text-anchor="middle" fill="#2a2a2a" stroke="#2a2a2a" stroke-width="0.2" >BL EBV−</text>
<text transform="translate(113.30 465.80) rotate(-90) scale(1 1.3)" font-size="6.75" text-anchor="middle" fill="#2a2a2a" stroke="#2a2a2a" stroke-width="0.2" >% CD4+/Ifng+ cells</text>
<line x1="158.60" y1="447.30" x2="234.60" y2="447.30" stroke="#444" stroke-width="1.15"/>
<text transform="translate(196.90 446.40) scale(1.07 1)" font-size="6.6" text-anchor="middle" fill="#111" stroke="#111" stroke-width="0.05" >*</text>
<line x1="195.60" y1="473.30" x2="233.50" y2="473.30" stroke="#444" stroke-width="1.15"/>
<text transform="translate(214.85 472.40) scale(1.07 1)" font-size="6.6" text-anchor="middle" fill="#111" stroke="#111" stroke-width="0.05" >*</text>
<rect x="315.80" y="457.20" width="22.90" height="58.00" fill="#C41230"/>
<rect x="352.40" y="480.00" width="22.90" height="35.20" fill="#10558A"/>
<rect x="389.40" y="511.70" width="22.90" height="3.50" fill="#37B54C"/>
<line x1="327.25" y1="444.70" x2="327.25" y2="457.20" stroke="#2e2e2e" stroke-width="1"/>
<line x1="321.30" y1="444.70" x2="333.20" y2="444.70" stroke="#2e2e2e" stroke-width="1.1"/>
<line x1="363.85" y1="467.70" x2="363.85" y2="480.00" stroke="#2e2e2e" stroke-width="1"/>
<line x1="357.90" y1="467.70" x2="369.80" y2="467.70" stroke="#2e2e2e" stroke-width="1.1"/>
<line x1="400.85" y1="507.10" x2="400.85" y2="511.70" stroke="#2e2e2e" stroke-width="1"/>
<line x1="394.90" y1="507.10" x2="406.80" y2="507.10" stroke="#2e2e2e" stroke-width="1.1"/>
<line x1="302.40" y1="418.50" x2="302.40" y2="515.70" stroke="#333" stroke-width="1.1"/>
<line x1="299.40" y1="515.20" x2="425.40" y2="515.20" stroke="#333" stroke-width="1.1"/>
<line x1="299.40" y1="515.20" x2="302.40" y2="515.20" stroke="#333" stroke-width="1"/>
<text transform="translate(296.20 517.80) scale(1.07 1)" font-size="7.0" text-anchor="end" fill="#2a2a2a" stroke="#2a2a2a" stroke-width="0.1" >0.0</text>
<line x1="299.40" y1="496.46" x2="302.40" y2="496.46" stroke="#333" stroke-width="1"/>
<text transform="translate(296.20 499.06) scale(1.07 1)" font-size="7.0" text-anchor="end" fill="#2a2a2a" stroke="#2a2a2a" stroke-width="0.1" >0.2</text>
<line x1="299.40" y1="477.72" x2="302.40" y2="477.72" stroke="#333" stroke-width="1"/>
<text transform="translate(296.20 480.32) scale(1.07 1)" font-size="7.0" text-anchor="end" fill="#2a2a2a" stroke="#2a2a2a" stroke-width="0.1" >0.4</text>
<line x1="299.40" y1="458.98" x2="302.40" y2="458.98" stroke="#333" stroke-width="1"/>
<text transform="translate(296.20 461.58) scale(1.07 1)" font-size="7.0" text-anchor="end" fill="#2a2a2a" stroke="#2a2a2a" stroke-width="0.1" >0.6</text>
<line x1="299.40" y1="440.24" x2="302.40" y2="440.24" stroke="#333" stroke-width="1"/>
<text transform="translate(296.20 442.84) scale(1.07 1)" font-size="7.0" text-anchor="end" fill="#2a2a2a" stroke="#2a2a2a" stroke-width="0.1" >0.8</text>
<line x1="299.40" y1="421.50" x2="302.40" y2="421.50" stroke="#333" stroke-width="1"/>
<text transform="translate(296.20 424.10) scale(1.07 1)" font-size="7.0" text-anchor="end" fill="#2a2a2a" stroke="#2a2a2a" stroke-width="0.1" >1.0</text>
<line x1="327.25" y1="515.20" x2="327.25" y2="517.70" stroke="#333" stroke-width="1"/>
<text transform="translate(327.25 527.40) scale(1.07 1)" font-size="7.2" text-anchor="middle" fill="#2a2a2a" stroke="#2a2a2a" stroke-width="0.2" >BL Gran</text>
<line x1="363.85" y1="515.20" x2="363.85" y2="517.70" stroke="#333" stroke-width="1"/>
<text transform="translate(363.85 527.40) scale(1.07 1)" font-size="7.2" text-anchor="middle" fill="#2a2a2a" stroke="#2a2a2a" stroke-width="0.2" >BL EBV+</text>
<line x1="400.85" y1="515.20" x2="400.85" y2="517.70" stroke="#333" stroke-width="1"/>
<text transform="translate(400.85 527.40) scale(1.07 1)" font-size="7.2" text-anchor="middle" fill="#2a2a2a" stroke="#2a2a2a" stroke-width="0.2" >BL EBV−</text>
<text transform="translate(280.60 465.80) rotate(-90) scale(1 1.3)" font-size="6.75" text-anchor="middle" fill="#2a2a2a" stroke="#2a2a2a" stroke-width="0.2" >% CD8+/Ifng+ cells</text>
<line x1="326.60" y1="434.10" x2="402.10" y2="434.10" stroke="#444" stroke-width="1.15"/>
<text transform="translate(364.65 433.20) scale(1.07 1)" font-size="6.6" text-anchor="middle" fill="#111" stroke="#111" stroke-width="0.05" >**</text>
<line x1="363.40" y1="452.10" x2="403.00" y2="452.10" stroke="#444" stroke-width="1.15"/>
<text transform="translate(383.50 451.20) scale(1.07 1)" font-size="6.6" text-anchor="middle" fill="#111" stroke="#111" stroke-width="0.05" >**</text>
<text transform="translate(6.80 16.40) scale(1.04 1)" font-size="10.6" text-anchor="start" fill="#111" stroke="#111" stroke-width="0.15" font-weight="bold">A</text>
<text transform="translate(94.40 287.30) scale(1.04 1)" font-size="10.6" text-anchor="start" fill="#111" stroke="#111" stroke-width="0.15" font-weight="bold">B</text>
</g>
</svg></div></body></html>
